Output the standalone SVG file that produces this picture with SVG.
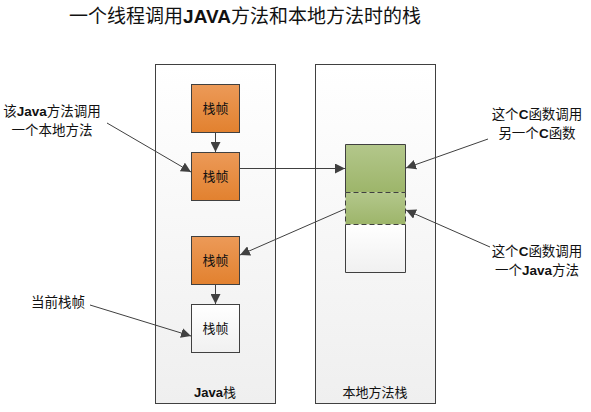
<svg xmlns="http://www.w3.org/2000/svg" width="591" height="412" viewBox="0 0 591 412">
<style>
.t{font-family:"Noto Sans CJK SC","Liberation Sans",sans-serif;fill:#111}
.lbl{font-size:13.5px}
.fr{stroke:#404040;stroke-width:1}
.c{fill:none;stroke:#404040;stroke-width:1}
</style>
<defs>
<linearGradient id="bg" x1="0" y1="0" x2="0" y2="1"><stop offset="0" stop-color="#ffffff"/><stop offset="1" stop-color="#efefef"/></linearGradient>
<linearGradient id="or" x1="0" y1="0" x2="0" y2="1"><stop offset="0" stop-color="#ec9a58"/><stop offset="1" stop-color="#e2812f"/></linearGradient>
<linearGradient id="gr" x1="0" y1="0" x2="0" y2="1"><stop offset="0" stop-color="#b3c78b"/><stop offset="1" stop-color="#9db56a"/></linearGradient>
<linearGradient id="wh" x1="0" y1="0" x2="0" y2="1"><stop offset="0" stop-color="#ffffff"/><stop offset="1" stop-color="#f0f0f0"/></linearGradient>
<marker id="ah" viewBox="0 0 10 10" refX="10" refY="5" markerWidth="10" markerHeight="10" markerUnits="userSpaceOnUse" orient="auto"><path d="M0,0 L10,5 L0,10 z" fill="#404040"/></marker>
</defs>
<rect width="591" height="412" fill="#fff"/>
<text class="t" x="245" y="23" font-size="19" text-anchor="middle">一个线程调用<tspan font-weight="bold" font-family="Liberation Sans,sans-serif">JAVA</tspan>方法和本地方法时的栈</text>
<g id="java-stack">
<rect x="155.5" y="64.5" width="120" height="339" fill="url(#bg)" stroke="#404040"/>
<text class="t" x="215" y="397" font-size="13" text-anchor="middle"><tspan font-weight="bold" font-family="Liberation Sans,sans-serif">Java</tspan>栈</text>
</g>
<g id="native-stack">
<rect x="315.5" y="64.5" width="120" height="339" fill="url(#bg)" stroke="#404040"/>
<text class="t" x="375" y="397" font-size="13" text-anchor="middle">本地方法栈</text>
</g>
<g id="frame1"><rect class="fr" x="191.5" y="84.5" width="48" height="48" fill="url(#or)"/><text class="t" x="215.5" y="113" font-size="13" text-anchor="middle">栈帧</text></g>
<g id="frame2"><rect class="fr" x="191.5" y="152.5" width="48" height="48" fill="url(#or)"/><text class="t" x="215.5" y="181" font-size="13" text-anchor="middle">栈帧</text></g>
<g id="frame3"><rect class="fr" x="191.5" y="236.5" width="48" height="48" fill="url(#or)"/><text class="t" x="215.5" y="265" font-size="13" text-anchor="middle">栈帧</text></g>
<g id="frame4"><rect class="fr" x="191.5" y="304.5" width="48" height="48" fill="url(#wh)"/><text class="t" x="215.5" y="333" font-size="13" text-anchor="middle">栈帧</text></g>
<g id="native-frames">
<rect x="345.5" y="144.5" width="60" height="48" fill="url(#gr)"/>
<rect x="345.5" y="192.5" width="60" height="32" fill="url(#gr)"/>
<rect x="345.5" y="224.5" width="60" height="48" fill="url(#wh)"/>
<path d="M345.5,192.5 V144.5 H405.5 V192.5" fill="none" stroke="#404040"/>
<path d="M345.5,192.5 H405.5 M345.5,224.5 H405.5 M345.5,192.5 V224.5 M405.5,192.5 V224.5" fill="none" stroke="#404040" stroke-dasharray="5,3"/>
<path d="M345.5,224.5 V272.5 H405.5 V224.5" fill="none" stroke="#404040"/>
</g>
<g id="labels">
<text class="t lbl" x="52" y="116" text-anchor="middle">该<tspan font-weight="bold" font-family="Liberation Sans,sans-serif">Java</tspan>方法调用</text>
<text class="t lbl" x="52" y="135" text-anchor="middle">一个本地方法</text>
<text class="t lbl" x="537" y="119" text-anchor="middle">这个<tspan font-weight="bold" font-family="Liberation Sans,sans-serif">C</tspan>函数调用</text>
<text class="t lbl" x="537" y="138" text-anchor="middle">另一个<tspan font-weight="bold" font-family="Liberation Sans,sans-serif">C</tspan>函数</text>
<text class="t lbl" x="537" y="256" text-anchor="middle">这个<tspan font-weight="bold" font-family="Liberation Sans,sans-serif">C</tspan>函数调用</text>
<text class="t lbl" x="537" y="275" text-anchor="middle">一个<tspan font-weight="bold" font-family="Liberation Sans,sans-serif">Java</tspan>方法</text>
<text class="t lbl" x="58" y="307" text-anchor="middle">当前栈帧</text>
</g>
<g id="connectors">
<line class="c" x1="215.5" y1="132.5" x2="215.5" y2="152" marker-end="url(#ah)"/>
<line class="c" x1="215.5" y1="284.5" x2="215.5" y2="304" marker-end="url(#ah)"/>
<line class="c" x1="239.5" y1="168.5" x2="345" y2="168.5" marker-end="url(#ah)"/>
<line class="c" x1="345" y1="209" x2="240" y2="255" marker-end="url(#ah)"/>
<line class="c" x1="107" y1="123" x2="191" y2="172" marker-end="url(#ah)"/>
<line class="c" x1="90" y1="305" x2="191" y2="336" marker-end="url(#ah)"/>
<line class="c" x1="488" y1="139" x2="406" y2="168" marker-end="url(#ah)"/>
<line class="c" x1="490" y1="247" x2="406" y2="210" marker-end="url(#ah)"/>
</g>
</svg>
